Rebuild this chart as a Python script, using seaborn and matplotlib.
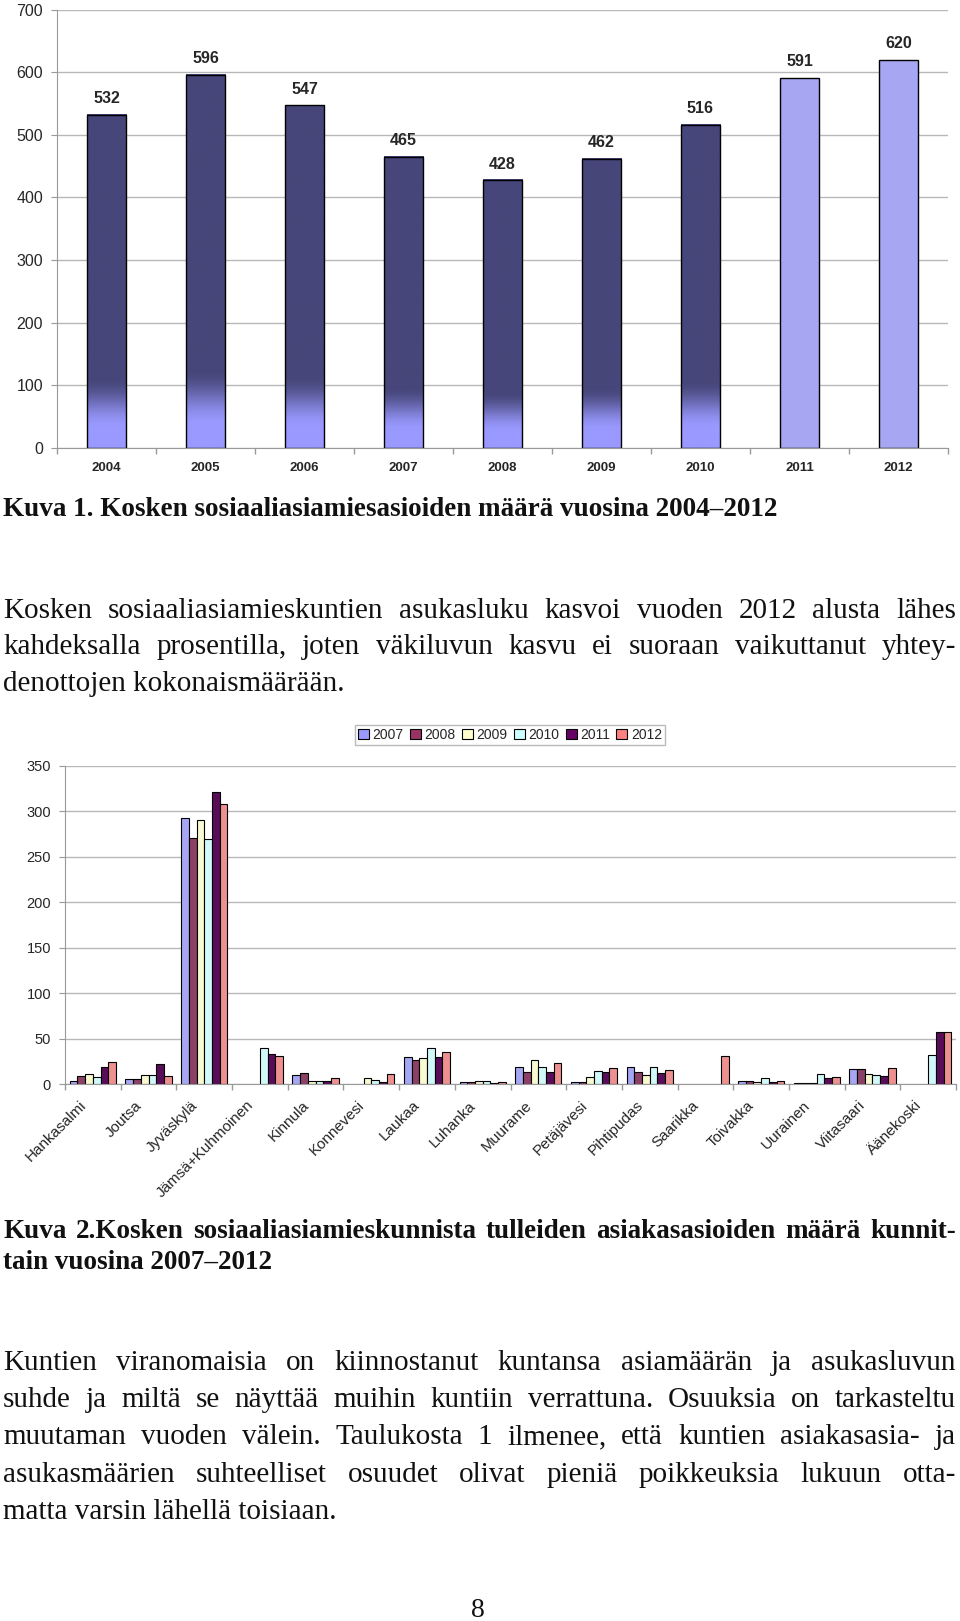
import numpy as np
import pandas as pd
import matplotlib
matplotlib.use("Agg")
import matplotlib.pyplot as plt
import matplotlib.colors as mcolors
from matplotlib.patches import Rectangle
from matplotlib.transforms import ScaledTranslation
import seaborn as sns

# Kuva 1: asiamiesasiat vuosittain
years = ["2004", "2005", "2006", "2007", "2008", "2009", "2010", "2011", "2012"]
cases = [532, 596, 547, 465, 428, 462, 516, 591, 620]

# Kuva 2: asiakasasiat kunnittain 2007-2012
kunnat = ["Hankasalmi", "Joutsa", "Jyväskylä", "Jämsä+Kuhmoinen", "Kinnula",
          "Konnevesi", "Laukaa", "Luhanka", "Muurame", "Petäjävesi",
          "Pihtipudas", "Saarikka", "Toivakka", "Uurainen", "Viitasaari",
          "Äänekoski"]
series_years = ["2007", "2008", "2009", "2010", "2011", "2012"]
nan = np.nan
v2007 = [4, 6, 293, nan, 10, nan, 30, 3, 19, 3, 19, nan, 4, 1, 17, nan]
v2008 = [9, 6, 271, nan, 12, nan, 27, 2, 13, 3, 14, nan, 4, 1, 17, nan]
v2009 = [11, 10, 290, nan, 4, 7, 29, 4, 27, 8, 10, nan, 2, 1, 11, nan]
v2010 = [8, 10, 269, 40, 4, 5, 40, 4, 19, 15, 19, nan, 7, 11, 10, 32]
v2011 = [19, 22, 321, 33, 4, 3, 30, 1, 13, 13, 12, nan, 3, 7, 9, 58]
v2012 = [25, 9, 308, 31, 7, 11, 35, 2, 23, 18, 16, 31, 4, 8, 18, 57]

caption1 = "Kuva 1. Kosken sosiaaliasiamiesasioiden määrä vuosina 2004–2012"
para1 = ["Kosken sosiaaliasiamieskuntien asukasluku kasvoi vuoden 2012 alusta lähes",
         "kahdeksalla prosentilla, joten väkiluvun kasvu ei suoraan vaikuttanut yhtey-",
         "denottojen kokonaismäärään."]
caption2 = ["Kuva 2.Kosken sosiaaliasiamieskunnista tulleiden asiakasasioiden määrä kunnit-",
            "tain vuosina 2007–2012"]
para2 = ["Kuntien viranomaisia on kiinnostanut kuntansa asiamäärän ja asukasluvun",
         "suhde ja miltä se näyttää muihin kuntiin verrattuna. Osuuksia on tarkasteltu",
         "muutaman vuoden välein. Taulukosta 1 ilmenee, että kuntien asiakasasia- ja",
         "asukasmäärien suhteelliset osuudet olivat pieniä poikkeuksia lukuun otta-",
         "matta varsin lähellä toisiaan."]

W, H = 960, 1621
sns.set_style("white")
plt.rcParams["font.family"] = ["Liberation Sans", "DejaVu Sans"]

fig = plt.figure(figsize=(W / 100, H / 100), dpi=100)
fig.patch.set_facecolor("white")


def fy(px):
    return 1 - px / H


grid_c = "#b8b8b8"

# ---------- Kuva 1 ----------
ax1 = fig.add_axes([57 / W, fy(448), 891 / W, (448 - 9.5) / H])
dark, light = "#46467a", "#9999ff"
bar_cols = [dark] * 7 + [light] * 2
df1 = pd.DataFrame({"vuosi": years, "asiat": cases})
sns.barplot(data=df1, x="vuosi", y="asiat", hue="vuosi", palette=bar_cols,
            width=0.40, edgecolor="black", linewidth=1.0, legend=False, ax=ax1)
ax1.set_axisbelow(True)
ax1.yaxis.grid(True, color=grid_c, lw=1.0)

# pohjan liukuväri tummiin pylväisiin
dark_rgb = np.array(mcolors.to_rgb(dark))
light_rgb = np.array(mcolors.to_rgb(light))
t = np.linspace(0, 1, 300)
a = np.clip((t - 0.06) / 0.15, 0, 1)
a = a * a * (3 - 2 * a)
grad = (light_rgb[None, :] * (1 - a[:, None]) + dark_rgb[None, :] * a[:, None])[:, None, :]
for p in ax1.patches[:7]:
    x0, w, h = p.get_x(), p.get_width(), p.get_height()
    ax1.imshow(grad, extent=(x0, x0 + w, 0, h), origin="lower", aspect="auto",
               zorder=0.9, interpolation="bilinear")
    p.set_facecolor("none")
    p.set_zorder(1.5)
ax1.set_ylim(0, 700)
ax1.set_xlim(-0.5, len(years) - 0.5)
ax1.set_yticks(range(0, 701, 100))

for p, v in zip(ax1.patches, cases):
    ax1.annotate(str(v), (p.get_x() + p.get_width() / 2, v), xytext=(0, 6),
                 textcoords="offset points", ha="center", va="bottom",
                 fontsize=11.5, weight="bold")

ax1.set_xlabel("")
ax1.set_ylabel("")
ax1.tick_params(axis="x", length=0, pad=10, labelsize=9.5)
for lab in ax1.get_xticklabels():
    lab.set_fontweight("bold")
ax1.set_xticks(np.arange(-0.5, len(years), 1), minor=True)
ax1.tick_params(axis="x", which="minor", length=4, color="#999999", width=1, bottom=True)
ax1.tick_params(axis="y", length=4, color="#999999", pad=6, labelsize=11.5, left=True)
for s in ["top", "right"]:
    ax1.spines[s].set_visible(False)
for s in ["left", "bottom"]:
    ax1.spines[s].set_color("#999999")

# ---------- Kuva 2 ----------
ax2 = fig.add_axes([65 / W, fy(1084.3), 891 / W, (1084.3 - 765.7) / H])
colors2 = {"2007": "#9999ff", "2008": "#993366", "2009": "#ffffcc",
           "2010": "#ccffff", "2011": "#660066", "2012": "#ff8080"}
df2 = pd.DataFrame({"kunta": kunnat, "2007": v2007, "2008": v2008, "2009": v2009,
                    "2010": v2010, "2011": v2011, "2012": v2012})
long2 = df2.melt(id_vars="kunta", var_name="vuosi", value_name="asiat").dropna()
sns.barplot(data=long2, x="kunta", y="asiat", hue="vuosi", order=kunnat,
            hue_order=series_years, palette=colors2, width=0.83,
            edgecolor="black", linewidth=0.8, legend=False, ax=ax2, errorbar=None)
ax2.set_ylim(0, 350)
ax2.set_xlim(-0.5, len(kunnat) - 0.5)
ax2.set_yticks(range(0, 351, 50))
ax2.set_axisbelow(True)
ax2.yaxis.grid(True, color=grid_c, lw=1.0)
ax2.set_xlabel("")
ax2.set_ylabel("")

c12 = mcolors.to_rgba(colors2["2012"])
bars12 = sorted([p for p in ax2.patches if np.allclose(p.get_facecolor(), c12)],
                key=lambda p: p.get_x())
nudge = {"Jyväskylä": (8.5, 5), "Laukaa": (0, 11.5)}
for k, p, v in zip(kunnat, bars12, v2012):
    dx, dy = nudge.get(k, (0, 5))
    ax2.annotate(str(v), (p.get_x() + p.get_width() / 2, v), xytext=(dx, dy),
                 textcoords="offset points", ha="center", va="bottom",
                 fontsize=8.5, weight="bold",
                 bbox=dict(boxstyle="square,pad=0.1", fc="white", ec="none"))

ax2.set_xticks(range(len(kunnat)))
ax2.set_xticklabels(kunnat, rotation=45, ha="right", rotation_mode="anchor")
ax2.tick_params(axis="x", length=0, pad=10, labelsize=11)
shift = ScaledTranslation(-14 / 100, 0, fig.dpi_scale_trans)
for lab in ax2.get_xticklabels():
    lab.set_transform(lab.get_transform() + shift)
ax2.set_xticks(np.arange(-0.5, len(kunnat), 1), minor=True)
ax2.tick_params(axis="x", which="minor", length=4, color="#999999", width=1, bottom=True)
ax2.tick_params(axis="y", length=4, color="#999999", pad=6, labelsize=10.5, left=True)
for s in ["top", "right"]:
    ax2.spines[s].set_visible(False)
for s in ["left", "bottom"]:
    ax2.spines[s].set_color("#999999")

handles = [Rectangle((0, 0), 1, 1, facecolor=colors2[y], edgecolor="black", lw=0.8)
           for y in series_years]
fig.legend(handles, series_years, ncol=6, loc="center",
           bbox_to_anchor=(510 / W, fy(735)), frameon=True, fancybox=False,
           edgecolor="#aaaaaa", handlelength=0.8, handleheight=0.8,
           handletextpad=0.25, columnspacing=0.45, borderpad=0.25, fontsize=10)

# ---------- teksti ----------
renderer = fig.canvas.get_renderer()
serif = "Liberation Serif"


def put_line(txt, y_px, size, weight="normal", justify=True):
    x0, x1 = 3 / W, 956 / W
    kw = dict(fontsize=size, family=serif, fontweight=weight, va="baseline",
              ha="left", color="#111111")
    if not justify:
        fig.text(x0, fy(y_px), txt, **kw)
        return
    words = txt.split(" ")
    objs = [fig.text(0, fy(y_px), w, **kw) for w in words]
    ws = [o.get_window_extent(renderer).width / W for o in objs]
    gap = (x1 - x0 - sum(ws)) / (len(words) - 1)
    min_gap = 0.18 * size * 100 / 72 / W
    if gap < min_gap:
        for o in objs:
            o.remove()
        put_line(txt, y_px, size - 0.25, weight, justify)
        return
    x = x0
    for o, w in zip(objs, ws):
        o.set_x(x)
        x += w + gap


put_line(caption1, 516, 19.5, weight="bold", justify=False)
for i, ln in enumerate(para1):
    put_line(ln, 618 + i * 36.5, 21, justify=i < len(para1) - 1)
put_line(caption2[0], 1238, 19.5, weight="bold")
put_line(caption2[1], 1269, 19.5, weight="bold", justify=False)
for i, ln in enumerate(para2):
    put_line(ln, 1370 + i * 37.2, 21, justify=i < len(para2) - 1)
fig.text(0.498, fy(1617), "8", fontsize=20, family=serif, ha="center",
         va="baseline", color="#111111")

fig.savefig("out.png", dpi=100)
